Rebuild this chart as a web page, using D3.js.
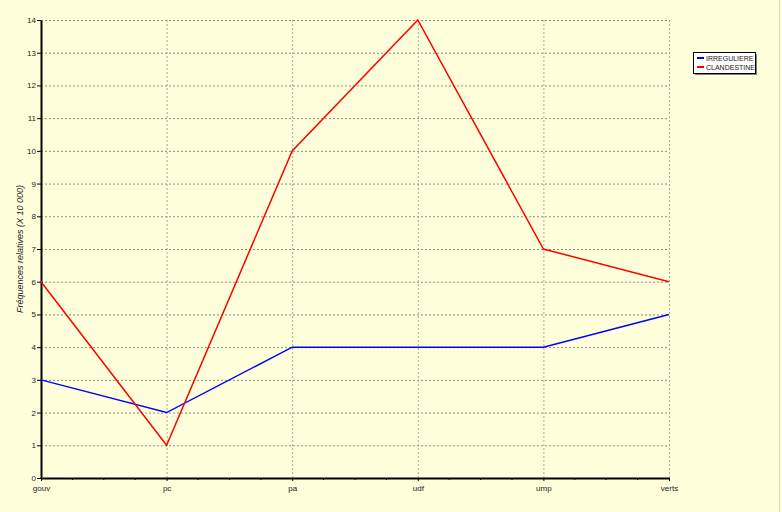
<!DOCTYPE html>
<html><head><meta charset="utf-8">
<script src="https://cdn.jsdelivr.net/npm/d3@7"></script>
<style>body{margin:0;background:#ffffdc;} svg{display:block;}</style>
</head><body>
<svg id="c" width="782" height="512"></svg>
<script>
const categories = ["gouv","pc","pa","udf","ump","verts"];
const irreguliere = [3,2,4,4,4,5];
const clandestine = [6,1,10,14,7,6];
const yTicks = [0,1,2,3,4,5,6,7,8,9,10,11,12,13,14];
const seriesNames = ["IRREGULIERE","CLANDESTINE"];
const seriesColors = ["#0000ff","#ff0000"];

const svg = d3.select("#c");
svg.append("rect").attr("width",782).attr("height",512).attr("fill","#ffffdc");
svg.append("line").attr("x1",779.5).attr("x2",779.5).attr("y1",0).attr("y2",512).attr("stroke","#d8d8c0");

const L=41, R=669, T=20, B=478;
const x = d3.scalePoint().domain(categories).range([L,R]);
const y = d3.scaleLinear().domain([0,14]).range([B,T]);
const font = "Arial, 'Liberation Sans', sans-serif";

// grid
const g = svg.append("g");
g.selectAll(".hg").data(yTicks.filter(d=>d>0)).join("line")
  .attr("x1",L).attr("x2",R).attr("y1",d=>y(d)+0.5).attr("y2",d=>y(d)+0.5)
  .attr("stroke","#8a8a80").attr("stroke-dasharray","2,2").attr("stroke-width",1);
g.selectAll(".vg").data(categories.slice(1)).join("line")
  .attr("x1",d=>x(d)+0.5).attr("x2",d=>x(d)+0.5).attr("y1",T).attr("y2",B)
  .attr("stroke","#a8a8a0").attr("stroke-dasharray","2,2").attr("stroke-width",1);

// y axis
const yAxis = d3.axisLeft(y).tickValues(yTicks).tickSize(4).tickSizeOuter(0).tickFormat(d3.format("d"));
const ya = svg.append("g").attr("transform",`translate(${L},0)`).call(yAxis);
ya.select(".domain").attr("stroke","#000").attr("stroke-width",2);
ya.selectAll(".tick line").attr("stroke","#000");
ya.selectAll(".tick text").attr("font-family",font).attr("font-size",8).attr("fill","#222").attr("x",-5);

// x axis
const xa = svg.append("g").attr("transform",`translate(0,${B})`).call(d3.axisBottom(x).tickSize(3).tickSizeOuter(0));
xa.select(".domain").attr("stroke","#000").attr("stroke-width",2);
xa.selectAll(".tick line").attr("stroke","#000");
xa.selectAll(".tick text").attr("font-family",font).attr("font-size",8).attr("fill","#222").attr("dy","0.9em");
// minor ticks
const step = x.step();
const minors=[];
categories.slice(0,-1).forEach(c=>{for(let k=1;k<4;k++) minors.push(x(c)+k*step/4);});
svg.append("g").selectAll("line").data(minors).join("line")
  .attr("x1",d=>d).attr("x2",d=>d).attr("y1",B).attr("y2",B+2).attr("stroke","#000");

// y title
svg.append("text").attr("transform",`translate(23,${(T+B)/2}) rotate(-90)`)
  .attr("text-anchor","middle").attr("font-family",font).attr("font-size",9).attr("font-style","italic")
  .attr("fill","#222")
  .text("Fréquences relatives (X 10 000)");

// lines
const line = d3.line().x((d,i)=>x(categories[i])).y(d=>y(d));
[irreguliere, clandestine].forEach((s,i)=>{
  svg.append("path").datum(s).attr("d",line).attr("fill","none")
    .attr("stroke",seriesColors[i]).attr("stroke-width",1.5);
});

// legend
const lg = svg.append("g").attr("transform","translate(693,52)");
lg.append("rect").attr("x",2).attr("y",2).attr("width",62).attr("height",21).attr("fill","#808080");
lg.append("rect").attr("x",0.5).attr("y",0.5).attr("width",62).attr("height",21).attr("fill","#fff").attr("stroke","#000");
seriesNames.forEach((n,i)=>{
  lg.append("line").attr("x1",4).attr("x2",11).attr("y1",6+i*9).attr("y2",6+i*9).attr("stroke",seriesColors[i]).attr("stroke-width",2);
  lg.append("text").attr("x",13).attr("y",9+i*9).attr("font-family",font).attr("font-size",7).attr("fill","#222").text(n);
});
</script>
</body></html>
